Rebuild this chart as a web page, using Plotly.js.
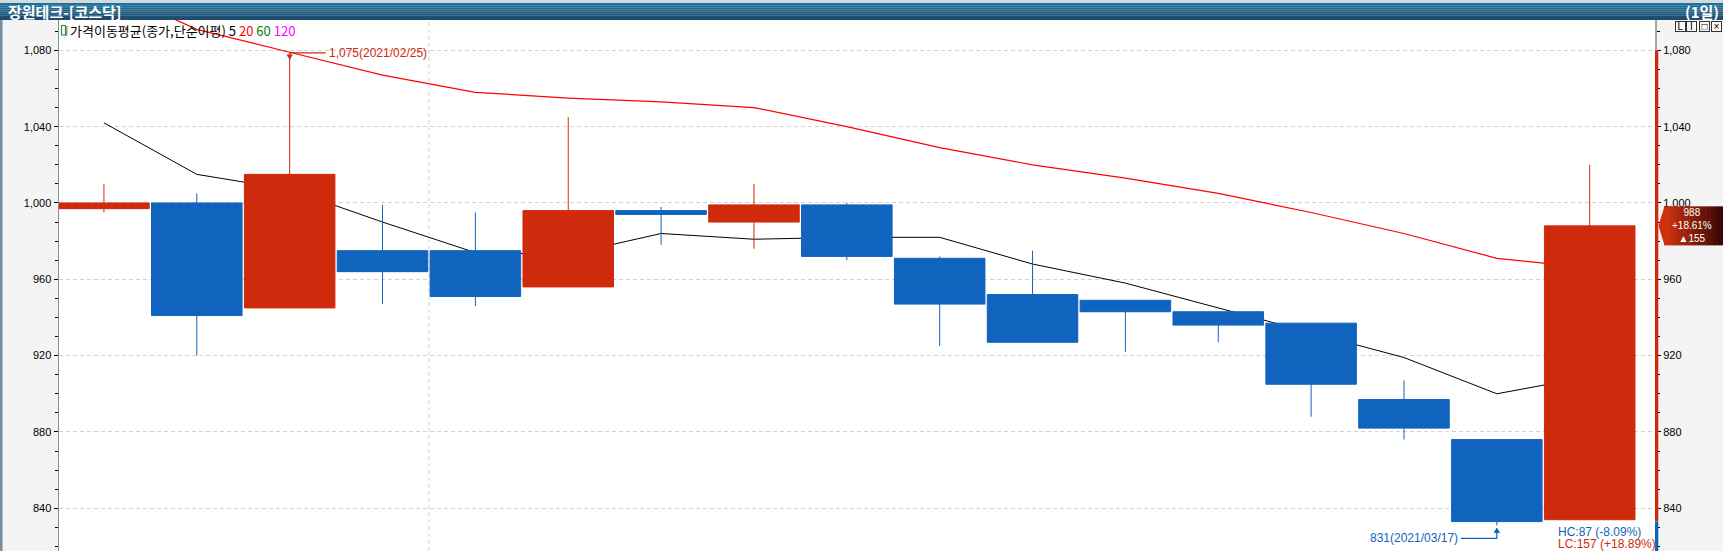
<!DOCTYPE html>
<html><head><meta charset="utf-8">
<script src="https://cdn.plot.ly/plotly-3.0.1.min.js"></script>
<style>html,body{margin:0;padding:0;background:#f4f4f4;overflow:hidden}#chart{width:1723px;height:551px}</style>
</head><body><div id="chart"></div>
<script>
// ---- data ----
const dates = ['2021-02-23','2021-02-24','2021-02-25','2021-02-26','2021-03-02','2021-03-03','2021-03-04','2021-03-05','2021-03-08','2021-03-09','2021-03-10','2021-03-11','2021-03-12','2021-03-15','2021-03-16','2021-03-17','2021-03-18'];
const openP  = [997,1000,945,975,975,956,996,990,999,971,952,949,943,937,897,876,834];
const highP  = [1010,1005,1075,999,995,1045,998,1010,1000,972,975,949,943,937,907,876,1020];
const lowP   = [995,920,945,947,946,956,978,976,970,925,927,922,927,888,876,831,834];
const closeP = [1000,941,1015,964,951,996,994,999,972,947,927,943,936,905,882,833,988];
const ma5    = [1042,1015,1007,990,974,973,984,981,982,982,968,958,945,932,919,900,909];
const ma20   = [1113,1091,1079,1067,1058,1055,1053,1050,1040,1029,1020,1013,1005,995,984,971,966];
const yTicks = [840,880,920,960,1000,1040,1080];
const maPeriods = ['5','20','60','120'];
const chartTitle = '장원테크-[코스닥]';
const periodLabel = '(1일)';
const legendLabel = '가격이동평균(종가,단순이평)';

// ---- styles ----
const RED = '#d02a0c', BLUE = '#1064be';
const W = 1723, H = 551, L = 59, R = 1656, T = 20, B = 551;
const yr = [817.6, 1095.9], xr = [-0.484, 16.714];
const px = X => (X - L) / (R - L);
const py = Y => (B - Y) / (B - T);
const vy = v => (v - yr[0]) / (yr[1] - yr[0]);
const hex = c => [1,3,5].map(i => parseInt(c.substr(i,2),16));
const lerp = (a, b, t) => { const A = hex(a), Bc = hex(b); return 'rgb(' + A.map((v,i)=>Math.round(v+(Bc[i]-v)*t)).join(',') + ')'; };

const n = dates.length;
const maxHigh = Math.max(...highP), hiIdx = highP.indexOf(maxHigh);
const minLow = Math.min(...lowP), loIdx = lowP.indexOf(minLow);
const last = closeP[n-1], prev = closeP[n-2];
const fmtDate = d => d.replace(/-/g, '/');
const fmtNum = v => v.toLocaleString('en-US');
const chg = last - prev, chgPct = (chg / prev * 100).toFixed(2);
const hc = maxHigh - last, hcPct = (-hc / maxHigh * 100).toFixed(2);
const lc = last - minLow, lcPct = (lc / minLow * 100).toFixed(2);

const traces = [
  {type:'scatter', mode:'lines', x:dates, y:ma20, line:{color:'#ff0000', width:1.2}, hoverinfo:'skip', showlegend:false},
  {type:'scatter', mode:'lines', x:dates, y:ma5, line:{color:'#000000', width:1}, hoverinfo:'skip', showlegend:false},
  {type:'candlestick', x:dates, open:openP, high:highP, low:lowP, close:closeP, xaxis:'x2', yaxis:'y2',
   increasing:{line:{color:RED, width:1}, fillcolor:RED},
   decreasing:{line:{color:BLUE, width:1}, fillcolor:BLUE},
   whiskerwidth:0, hoverinfo:'skip', showlegend:false}
];

const shapes = [];
const annotations = [];
// left strip
shapes.push({type:'rect', xref:'paper', yref:'paper', x0:px(0), x1:px(2.5), y0:0, y1:1, fillcolor:'#7a8ca0', line:{width:0}, layer:'above'});
// top strip + title bar gradient
shapes.push({type:'rect', xref:'paper', yref:'paper', x0:px(0), x1:px(W), y0:py(3), y1:py(0), fillcolor:'#d3d9df', line:{width:0}, layer:'above'});
const tb = 8;
for (let i = 0; i < tb; i++) {
  const y0 = 3 + i * 17 / tb, y1 = 3 + (i + 1) * 17 / tb;
  shapes.push({type:'rect', xref:'paper', yref:'paper', x0:px(0), x1:px(W), y0:py(y1), y1:py(y0), fillcolor:lerp('#1b7399', '#1e4a6d', i/(tb-1)), line:{width:0}, layer:'above'});
}
// month divider
shapes.push({type:'line', xref:'x', yref:'paper', x0:3.5, x1:3.5, y0:0, y1:1, line:{color:'#d2d2d2', width:1, dash:'4px,3px'}, layer:'below'});
// right side bar (up/down vs previous close)
shapes.push({type:'rect', xref:'paper', yref:'paper', x0:px(1655), x1:px(1658.3), y0:vy(prev), y1:vy(Math.max(...yTicks)), fillcolor:RED, line:{width:0}, layer:'above'});
shapes.push({type:'rect', xref:'paper', yref:'paper', x0:px(1655), x1:px(1658.3), y0:0, y1:vy(prev), fillcolor:BLUE, line:{width:0}, layer:'above'});
shapes.push({type:'line', xref:'paper', yref:'paper', x0:px(1656), x1:px(1656), y0:vy(Math.max(...yTicks)), y1:1, line:{color:'#8c8c8c', width:1.5}, layer:'above'});
// price tag
const tagC = vy(last), tagH = 19.5 / (B - T);
const sl = 14;
for (let i = 0; i < sl; i++) {
  const x0 = 1664 + i * (W - 1664) / sl, x1 = 1664 + (i + 1) * (W - 1664) / sl + 0.5;
  shapes.push({type:'rect', xref:'paper', yref:'paper', x0:px(x0), x1:px(x1), y0:tagC - tagH, y1:tagC + tagH, fillcolor:lerp('#cf300c', '#3a0804', i/(sl-1)), line:{width:0}, layer:'above'});
}
shapes.push({type:'path', xref:'paper', yref:'paper', path:`M${px(1658.5)},${tagC} L${px(1664.5)},${tagC+tagH} L${px(1664.5)},${tagC-tagH} Z`, fillcolor:'#cf300c', line:{width:0}, layer:'above'});
// legend icon
shapes.push({type:'rect', xref:'paper', yref:'paper', x0:px(65), x1:px(67.5), y0:py(36), y1:py(26), fillcolor:'#a0a0a0', line:{width:0}, layer:'above'});
shapes.push({type:'rect', xref:'paper', yref:'paper', x0:px(61.5), x1:px(65.5), y0:py(35), y1:py(25.5), fillcolor:'#e6ffe6', line:{color:'#118833', width:1}, layer:'above'});
// high marker
shapes.push({type:'path', xref:'x', yref:'y', xsizemode:'pixel', ysizemode:'pixel', xanchor:hiIdx, yanchor:maxHigh, path:'M0,0 V7 H36', line:{color:RED, width:1.2}, layer:'above'});
shapes.push({type:'path', xref:'x', yref:'y', xsizemode:'pixel', ysizemode:'pixel', xanchor:hiIdx, yanchor:maxHigh, path:'M0,1 L-2.5,5 L2.5,5 Z', fillcolor:RED, line:{color:RED, width:1}, layer:'above'});
// low marker
shapes.push({type:'path', xref:'x', yref:'y', xsizemode:'pixel', ysizemode:'pixel', xanchor:loIdx, yanchor:minLow, path:'M0,-3 V-13 H-36', line:{color:BLUE, width:1.2}, layer:'above'});
shapes.push({type:'path', xref:'x', yref:'y', xsizemode:'pixel', ysizemode:'pixel', xanchor:loIdx, yanchor:minLow, path:'M0,-3 L-2.5,-7 L2.5,-7 Z', fillcolor:BLUE, line:{color:BLUE, width:1}, layer:'above'});

const FNUM = 'Liberation Sans, Arial, sans-serif';
const FKR = 'Noto Sans CJK KR, sans-serif';
annotations.push({xref:'paper', yref:'paper', x:px(6), y:py(11.5), xanchor:'left', yanchor:'middle', showarrow:false, text:'<b>' + chartTitle + '</b>', font:{family:FKR, size:15, color:'#ffffff'}});
annotations.push({xref:'paper', yref:'paper', x:px(1721), y:py(11.5), xanchor:'right', yanchor:'middle', showarrow:false, text:'<b>' + periodLabel + '</b>', font:{family:FKR, size:15, color:'#ffffff'}});
const maColors = ['#000000', '#ff0000', '#008000', '#ff00ff'];
annotations.push({xref:'paper', yref:'paper', x:px(68), y:py(30.5), xanchor:'left', yanchor:'middle', showarrow:false,
  text: legendLabel + ' ' + maPeriods.map((p,i)=>`<span style="color:${maColors[i]}">${p}</span>`).join(' '),
  font:{family:FKR, size:13, color:'#000000'}});
annotations.push({xref:'x', yref:'y', x:hiIdx, y:maxHigh, xanchor:'left', yanchor:'middle', xshift:37, yshift:7, showarrow:false,
  text: fmtNum(maxHigh) + '(' + fmtDate(dates[hiIdx]) + ')', font:{family:FNUM, size:12, color:RED}});
annotations.push({xref:'x', yref:'y', x:loIdx, y:minLow, xanchor:'right', yanchor:'middle', xshift:-37, yshift:-13, showarrow:false,
  text: fmtNum(minLow) + '(' + fmtDate(dates[loIdx]) + ')', font:{family:FNUM, size:12, color:BLUE}});
annotations.push({xref:'paper', yref:'paper', x:px(1556), y:py(531.5), xanchor:'left', yanchor:'middle', showarrow:false,
  text:`HC:${hc} (${hcPct}%)`, font:{family:FNUM, size:12, color:BLUE}});
annotations.push({xref:'paper', yref:'paper', x:px(1556), y:py(543.5), xanchor:'left', yanchor:'middle', showarrow:false,
  text:`LC:${lc} (+${lcPct}%)`, font:{family:FNUM, size:12, color:RED}});
// tag texts
annotations.push({xref:'paper', yref:'paper', x:px(1691.5), y:tagC, yshift:0.5, xanchor:'center', yanchor:'middle', showarrow:false,
  text:[String(last), '+' + chgPct + '%', '▲' + chg].join('<br>'), align:'center', font:{family:FNUM, size:10, color:'#ffffff'}});
// window buttons
['L','I','□','×'].forEach((t, i) => {
  annotations.push({xref:'paper', yref:'paper', x:px(1680 + i * 12), y:py(26.5), xanchor:'center', yanchor:'middle', showarrow:false, text:t,
    font:{family:FNUM, size:10, color:'#000000'}, bgcolor:'#f8f8f8', bordercolor:'#333333', borderwidth:1, borderpad:0, width:9, height:9});
});

const axisCommon = {range:yr, tickvals:yTicks, tickformat:',d', ticks:'outside', ticklen:4, tickwidth:1, tickcolor:'#000000',
  tickfont:{family:FNUM, size:11, color:'#000000'}, zeroline:false, fixedrange:true,
  minor:{ticks:'outside', ticklen:3, tickwidth:1, tickcolor:'#000000', tick0:0, dtick:10, showgrid:false}};

const layout = {
  width:W, height:H, margin:{l:L, r:W - R, t:T, b:0, pad:0},
  paper_bgcolor:'#f4f4f4', plot_bgcolor:'#ffffff', showlegend:false,
  boxgap:0.025, boxgroupgap:0, hovermode:false,
  xaxis:{type:'category', categoryorder:'array', categoryarray:dates, range:xr, showgrid:false, showticklabels:false, ticks:'', zeroline:false, showline:false, fixedrange:true, rangeslider:{visible:false}},
  xaxis2:{type:'category', categoryorder:'array', categoryarray:dates, overlaying:'x', range:xr, visible:false, fixedrange:true, rangeslider:{visible:false}},
  yaxis:Object.assign({}, axisCommon, {side:'left', showgrid:true, gridcolor:'#d2d2d2', gridwidth:1, griddash:'4px,3px', showline:true, linecolor:'#8c8c8c', linewidth:1.5}),
  yaxis2:Object.assign({}, axisCommon, {side:'right', overlaying:'y', showgrid:false, showline:false}),
  shapes:shapes, annotations:annotations
};

Plotly.newPlot('chart', traces, layout, {staticPlot:true, displayModeBar:false});
</script>
</body></html>
